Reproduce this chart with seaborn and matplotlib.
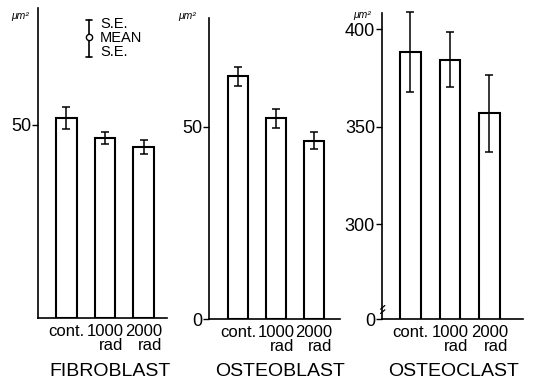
import matplotlib
matplotlib.use("Agg")
import matplotlib.pyplot as plt
import numpy as np
import pandas as pd
import seaborn as sns

# ---- data ----
groups = ["cont.", "1000\nrad", "2000\nrad"]
titles = ["FIBROBLAST", "OSTEOBLAST", "OSTEOCLAST"]
fibro_mean = [51.8, 46.6, 44.3]
fibro_se = [2.9, 1.5, 1.8]
osteob_mean = [63.1, 52.2, 46.4]
osteob_se = [2.5, 2.4, 2.2]
osteoc_mean = [388.5, 384.5, 356.8]
osteoc_se = [20.5, 14.0, 20.0]

fibro_ticks = [50]
fibro_ticklabels = ["50"]
osteob_ticks = [0, 50]
osteob_ticklabels = ["0", "50"]
osteoc_ticks = [251.2, 300, 350, 400]
osteoc_ticklabels = ["0", "300", "350", "400"]

sns.set_style("ticks")
plt.rcParams["font.family"] = ["Liberation Sans", "DejaVu Sans"]
for k in ("text.color", "axes.labelcolor", "xtick.color", "ytick.color", "axes.edgecolor"):
    plt.rcParams[k] = "black"

W, H = 534, 388
fig = plt.figure(figsize=(W / 100, H / 100), dpi=100)

def px_axes(x0, x1, ytop, ybot):
    return fig.add_axes([x0 / W, (H - ybot) / H, (x1 - x0) / W, (ybot - ytop) / H])

panels = [
    dict(rect=(38, 167, 8, 318), mean=fibro_mean, se=fibro_se, ylim=(0, 80.3),
         xlim=(-0.74, 2.61), ticks=fibro_ticks, labels=fibro_ticklabels,
         title=titles[0], tx=0.56, unit=(-0.14, 0.975)),
    dict(rect=(209, 340, 18, 319), mean=osteob_mean, se=osteob_se, ylim=(0, 78.3),
         xlim=(-0.76, 2.68), ticks=osteob_ticks, labels=osteob_ticklabels,
         title=titles[1], tx=0.54, unit=(-0.165, 1.005)),
    dict(rect=(382, 523, 13, 319), mean=osteoc_mean, se=osteoc_se, ylim=(251.2, 408.4),
         xlim=(-0.72, 2.85), ticks=osteoc_ticks, labels=osteoc_ticklabels,
         title=titles[2], tx=0.51, unit=(-0.14, 0.995)),
]

for i, p in enumerate(panels):
    ax = px_axes(*p["rect"])
    df = pd.DataFrame({"group": groups, "mean": p["mean"], "se": p["se"]})
    sns.barplot(data=df, x="group", y="mean", ax=ax, color="white",
                edgecolor="black", linewidth=1.5, width=0.52, errorbar=None)
    for patch in ax.patches:
        patch.set_facecolor("white")
    eb = ax.errorbar(np.arange(len(df)), df["mean"], yerr=df["se"], fmt="none",
                     ecolor="black", elinewidth=1.1, capsize=3.2, capthick=1.1)
    for art in eb.lines[1] + eb.lines[2]:
        art.set_clip_on(False)
    ax.set_ylim(*p["ylim"])
    ax.set_xlim(*p["xlim"])
    ax.set_yticks(p["ticks"])
    ax.set_yticklabels(p["labels"], fontsize=13)
    ax.set_xticks(range(len(groups)))
    ax.set_xticklabels(groups, fontsize=12, multialignment="right", linespacing=0.95)
    ax.tick_params(axis="x", length=0, pad=4)
    ax.tick_params(axis="y", length=4, width=1, pad=1, direction="out")
    ax.set_ylabel("")
    ax.set_xlabel(p["title"], fontsize=14)
    ax.xaxis.set_label_coords(p["tx"], -0.145)
    ax.xaxis.label.set_va("top")
    sns.despine(ax=ax)
    for s in ("left", "bottom"):
        ax.spines[s].set_linewidth(1.2)
    ax.text(p["unit"][0], p["unit"][1], "\u03bcm\u00b2", transform=ax.transAxes,
            fontsize=7.5, style="italic", ha="center", va="center")

    if i == 0:
        # S.E. / MEAN / S.E. key
        tr = ax.transAxes
        xk = 0.395
        ax.plot([xk, xk], [0.842, 0.961], color="black", lw=1.2, transform=tr, clip_on=False)
        for yk in (0.842, 0.961):
            ax.plot([xk - 0.022, xk + 0.022], [yk, yk], color="black", lw=1.2,
                    transform=tr, clip_on=False)
        ax.plot([xk], [0.905], marker="o", ms=4.5, mfc="white", mec="black", mew=1,
                transform=tr, clip_on=False)
        for yk, t in zip((0.948, 0.903, 0.858), ("S.E.", "MEAN", "S.E.")):
            ax.text(0.48, yk, t, transform=tr, fontsize=10.5, va="center", ha="left")
    if i == 2:
        tr = ax.transAxes
        ax.plot([-0.01, 0.02], [0.018, 0.03], color="black", lw=0.9,
                transform=tr, clip_on=False)
        ax.plot([-0.01, 0.02], [0.032, 0.044], color="black", lw=0.9,
                transform=tr, clip_on=False)

fig.savefig("out.png", dpi=100)
